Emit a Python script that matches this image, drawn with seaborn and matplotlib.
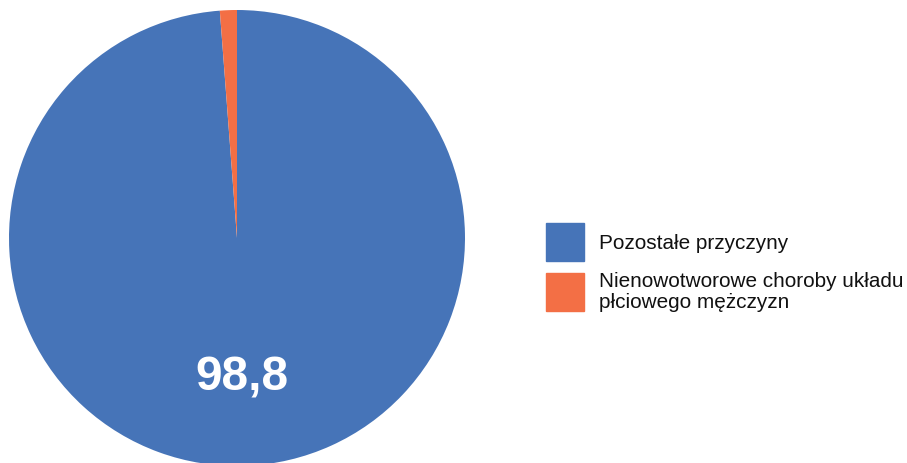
import matplotlib
matplotlib.use("Agg")
import matplotlib.pyplot as plt
import matplotlib.patches as mpatches
import seaborn as sns

categories = ["Pozostałe przyczyny", "Nienowotworowe choroby układu\npłciowego mężczyzn"]
values = [98.8, 1.2]
colors = ["#4674B8", "#F36F45"]

sns.set_theme(style="white")
plt.rcParams["font.family"] = ["Liberation Sans", "DejaVu Sans"]

W, H = 907, 464
fig = plt.figure(figsize=(W / 100, H / 100), dpi=100)
cx, cy, r = 237, 239, 228
ax = fig.add_axes([(cx - r) / W, (H - cy - r) / H, 2 * r / W, 2 * r / H])

def fmt(p):
    return f"{p:.1f}".replace(".", ",") if p > 50 else ""

wedges, texts, autotexts = ax.pie(
    values, colors=colors, startangle=90, counterclock=False,
    autopct=fmt, pctdistance=0.61, radius=1,
    wedgeprops=dict(linewidth=0),
    textprops=dict(color="white", fontsize=34.5, fontweight="bold"),
)
ax.set_xlim(-1, 1)
ax.set_ylim(-1, 1)
ax.set_aspect("equal")

fs = 14.95
fpx = fs * 100 / 72
hl = 38 / fpx
hh = (38 / fpx - 0.245) / 0.65
handles = [mpatches.Patch(color=c, label=l) for c, l in zip(colors, categories)]
leg = fig.legend(handles=handles, loc="upper left",
                 bbox_to_anchor=(546 / W, 1 - 224 / H), frameon=False,
                 fontsize=fs, handlelength=hl, handleheight=hh,
                 handletextpad=15 / fpx, labelspacing=0.5, borderpad=0, borderaxespad=0,
                 labelcolor="#111111")
for t in leg.get_texts():
    t.set_linespacing(1.1)

fig.savefig("out.png", dpi=100, facecolor="white")
